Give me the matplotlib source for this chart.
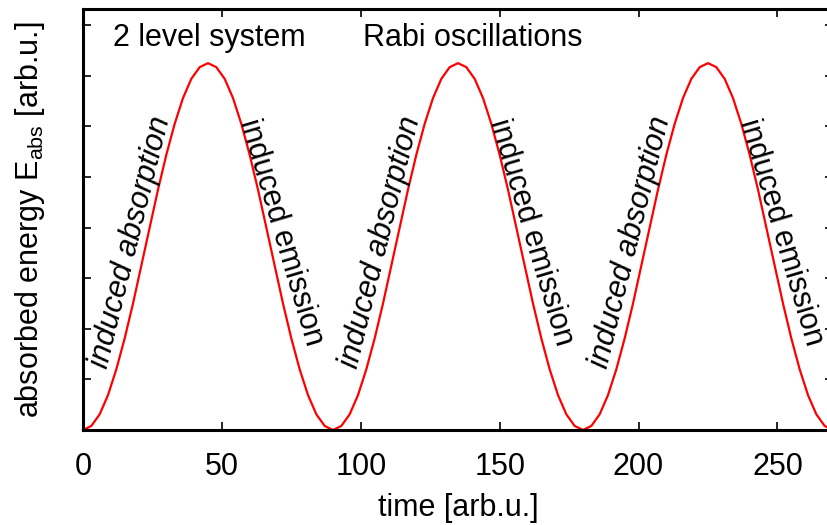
import matplotlib
matplotlib.use("Agg")
import matplotlib.pyplot as plt

time = list(range(0, 271, 3))
energy = [
    0.00, 0.08, 0.31, 0.69, 1.20, 1.81, 2.50, 3.25, 4.00, 4.75, 5.44, 6.05, 6.56, 6.94, 7.17,
    7.25, 7.17, 6.94, 6.56, 6.05, 5.44, 4.75, 4.00, 3.25, 2.50, 1.81, 1.20, 0.69, 0.31, 0.08,
    0.00, 0.08, 0.31, 0.69, 1.20, 1.81, 2.50, 3.25, 4.00, 4.75, 5.44, 6.05, 6.56, 6.94, 7.17,
    7.25, 7.17, 6.94, 6.56, 6.05, 5.44, 4.75, 4.00, 3.25, 2.50, 1.81, 1.20, 0.69, 0.31, 0.08,
    0.00, 0.08, 0.31, 0.69, 1.20, 1.81, 2.50, 3.25, 4.00, 4.75, 5.44, 6.05, 6.56, 6.94, 7.17,
    7.25, 7.17, 6.94, 6.56, 6.05, 5.44, 4.75, 4.00, 3.25, 2.50, 1.81, 1.20, 0.69, 0.31, 0.08,
    0.00,
]
xticks = [0, 50, 100, 150, 200, 250]
yticks = [0, 1, 2, 3, 4, 5, 6, 7, 8]

# Beschriftungen an den Flanken
absorption_x = [17.2, 107.2, 197.2]
emission_x = [71.2, 161.2, 251.2]
absorption_y = 3.72
emission_y = 3.91

plt.rcParams['font.family'] = ['Liberation Sans', 'DejaVu Sans']
fs = 22

fig = plt.figure(figsize=(8.28, 5.25), dpi=100)
ax = fig.add_axes([83/828, 95/525, 750/828, 421/525])
ax.plot(time, energy, color='#ff0000', lw=1.6, clip_on=False)
ax.set_xlim(0, 270)
ax.set_ylim(0, 8.32)

ax.set_xticks(xticks)
ax.set_yticks(yticks)
ax.set_yticklabels([])
ax.tick_params(direction='in', top=True, right=True, length=6, width=1.2,
               labelsize=fs, pad=16)
for s in ax.spines.values():
    s.set_linewidth(2.2)

ax.set_xlabel('time [arb.u.]', fontsize=fs, labelpad=8)
ax.set_ylabel(r'absorbed energy E$_\mathregular{abs}$ [arb.u.]', fontsize=fs, labelpad=10)

ax.text(10.8, 7.75, '2 level system', fontsize=fs, ha='left', va='center')
ax.text(100.8, 7.75, 'Rabi oscillations', fontsize=fs, ha='left', va='center')

for xa in absorption_x:
    ax.text(xa, absorption_y, 'induced absorption', fontsize=fs, style='italic',
            rotation=76, ha='center', va='center', rotation_mode='anchor')
for xe in emission_x:
    ax.text(xe, emission_y, 'induced emission', fontsize=fs,
            rotation=-73.5, ha='center', va='center', rotation_mode='anchor')

fig.savefig('out.png', dpi=100)
